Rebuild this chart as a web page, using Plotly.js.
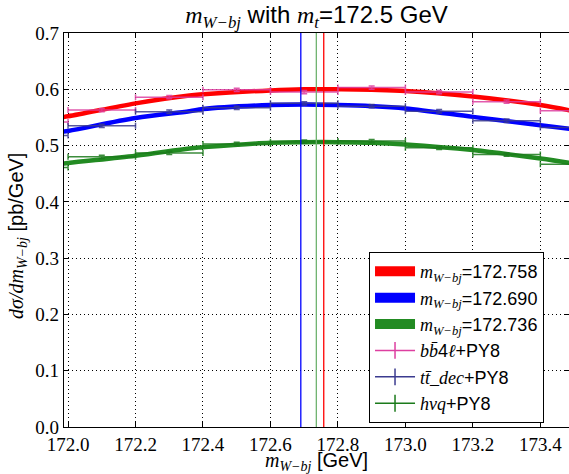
<!DOCTYPE html>
<html>
<head>
<meta charset="utf-8">
<script src="https://cdn.plot.ly/plotly-3.0.1.min.js"></script>
<style>html,body{margin:0;padding:0;background:#fff;}#chart{width:569px;height:474px;}</style>
</head>
<body>
<div id="chart"></div>
<script>
// Bin centres (bin width 0.2 GeV)
const binCenters = [171.9, 172.1, 172.3, 172.5, 172.7, 172.9, 173.1, 173.3, 173.5];
const histBB4L = [0.542, 0.563, 0.586, 0.599, 0.595, 0.603, 0.595, 0.578, 0.562];
const histTTdec = [0.518, 0.535, 0.560, 0.567, 0.575, 0.570, 0.561, 0.544, 0.532];
const histHVQ   = [0.461, 0.480, 0.487, 0.503, 0.507, 0.508, 0.496, 0.484, 0.467];
const histErr   = [0.003, 0.003, 0.003, 0.003, 0.003, 0.003, 0.003, 0.003, 0.003];
const binHalfWidth = 0.1;

// Fit curves
const fitX    = [171.95, 172.0, 172.2, 172.36, 172.4, 172.6, 172.7, 172.8, 172.9, 173.0, 173.2, 173.4, 173.5];
const fitRed  = [0.548, 0.552, 0.575, 0.589, 0.591, 0.598, 0.600, 0.600, 0.599, 0.597, 0.587, 0.572, 0.561];
const fitBlue = [0.522, 0.526, 0.549, 0.561, 0.565, 0.572, 0.573, 0.572, 0.570, 0.566, 0.551, 0.536, 0.529];
const fitGreen= [0.465, 0.469, 0.482, 0.495, 0.497, 0.505, 0.506, 0.506, 0.505, 0.502, 0.492, 0.477, 0.468];

// Fitted peak positions
const fitLabels = ['172.758', '172.690', '172.736'];
const fitPeaks  = [172.758, 172.690, 172.736];

const xTicks = [172.0, 172.2, 172.4, 172.6, 172.8, 173.0, 173.2, 173.4];
const yTicks = [0.0, 0.1, 0.2, 0.3, 0.4, 0.5, 0.6, 0.7];

const cRed = '#ff0000', cBlue = '#0000ff', cGreen = '#228b22';
const cPink = '#dd3fa0', cNavy = '#3b3b8f', cDkGreen = '#1b7a1b';

const sans  = 'Liberation Sans';
function mi(s){ return '<span style="font-family:Liberation Serif;"><i>' + s + '</i></span>'; }
const mWbj = mi('m') + '<sub>' + mi('W−bj') + '</sub>';

function fitTrace(y, color){
  return {x: fitX, y: y, mode: 'lines', line: {color: color, width: 4.5, shape: 'spline'}, showlegend: false, hoverinfo: 'skip'};
}
function histTrace(y, color){
  return {x: binCenters, y: y, mode: 'markers', marker: {size: 1, color: color}, opacity: 0.85,
    error_x: {type: 'constant', value: binHalfWidth, color: color, thickness: 1.5, width: 3},
    error_y: {type: 'data', array: histErr, color: color, thickness: 1.5, width: 3},
    showlegend: false, hoverinfo: 'skip'};
}
function legFit(color, label){
  return {x: [null], y: [null], mode: 'lines', line: {color: color, width: 10}, name: mWbj + '=' + label};
}
function legHist(color, name){
  return {x: [null], y: [null], mode: 'lines+markers', line: {color: color, width: 1.5},
    marker: {symbol: 'line-ns-open', size: 12, color: color, line: {color: color, width: 1.5}}, name: name};
}

const traces = [
  fitTrace(fitRed, cRed), fitTrace(fitBlue, cBlue), fitTrace(fitGreen, cGreen),
  histTrace(histBB4L, cPink), histTrace(histTTdec, cNavy), histTrace(histHVQ, cDkGreen),
  legFit(cRed, fitLabels[0]), legFit(cBlue, fitLabels[1]), legFit(cGreen, fitLabels[2]),
  legHist(cPink, mi('bb̄') + '4' + mi('ℓ') + '+PY8'),
  legHist(cNavy, mi('tt̄_dec') + '+PY8'),
  legHist(cDkGreen, mi('hvq') + '+PY8')
];

const lineColors = [cRed, cBlue, '#6fb36f'];
const shapes = fitPeaks.map((p, i) => ({type: 'line', xref: 'x', yref: 'paper', x0: p, x1: p, y0: 0, y1: 1,
  line: {color: lineColors[i], width: 1.3}, layer: 'above'}));

const layout = {
  width: 569, height: 474,
  margin: {l: 64, r: 0, t: 33, b: 47},
  paper_bgcolor: 'white', plot_bgcolor: 'white',
  title: {text: mWbj + ' with ' + mi('m') + '<sub>' + mi('t') + '</sub>=172.5 GeV', font: {family: sans, size: 24, color: 'black'},
    xref: 'paper', x: 0.5, xanchor: 'center', y: 0.97, yanchor: 'middle'},
  xaxis: {range: [171.988, 173.485], tickmode: 'array', tickvals: xTicks, tickformat: '.1f',
    tickfont: {family: 'Liberation Serif', size: 19, color: 'black'},
    showline: true, linecolor: 'black', linewidth: 1.2, mirror: 'allticks', ticks: 'inside', ticklen: 5, tickcolor: 'black',
    showgrid: true, gridcolor: 'black', gridwidth: 1, griddash: '1px,3px', zeroline: false},
  yaxis: {range: [0, 0.7], tickmode: 'array', tickvals: yTicks, tickformat: '.1f',
    tickfont: {family: 'Liberation Serif', size: 19, color: 'black'},
    showline: true, linecolor: 'black', linewidth: 1.2, mirror: 'allticks', ticks: 'inside', ticklen: 5, tickcolor: 'black',
    showgrid: true, gridcolor: 'black', gridwidth: 1, griddash: '1px,3px', zeroline: false},
  annotations: [
    {text: mWbj + ' [GeV]', xref: 'paper', yref: 'paper', x: 0.5, y: -0.088, xanchor: 'center', yanchor: 'middle',
      showarrow: false, font: {family: sans, size: 20, color: 'black'}},
    {text: mi('dσ/dm') + '<sub>' + mi('W−bj') + '</sub> [pb/GeV]', xref: 'paper', yref: 'paper', x: -0.091, y: 0.485,
      xanchor: 'center', yanchor: 'middle', textangle: -90, showarrow: false, font: {family: sans, size: 20, color: 'black'}}
  ],
  legend: {x: 0.604, y: 0.444, xanchor: 'left', yanchor: 'top', bgcolor: 'white', bordercolor: 'black', borderwidth: 1,
    font: {family: sans, size: 18, color: 'black'}, tracegroupgap: 0, itemwidth: 40},
  shapes: shapes,
  showlegend: true
};

Plotly.newPlot('chart', traces, layout, {staticPlot: true, displayModeBar: false});
</script>
</body>
</html>
